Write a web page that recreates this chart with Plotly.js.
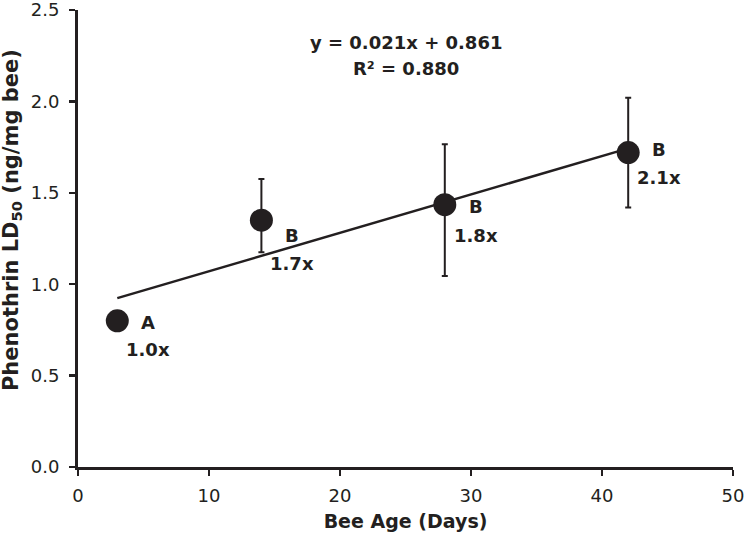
<!DOCTYPE html>
<html>
<head>
<meta charset="utf-8">
<script src="https://cdn.plot.ly/plotly-3.0.1.min.js"></script>
<style>html,body{margin:0;padding:0;background:#fff;}#chart{width:746px;height:542px;}</style>
</head>
<body>
<div id="chart"></div>
<script>
// Data
var ageDays = [3, 14, 28, 42];
var ld50 = [0.80, 1.35, 1.435, 1.72];
var errPlus = [0, 0.225, 0.33, 0.30];
var errMinus = [0, 0.175, 0.39, 0.30];
var groupLetters = ['A', 'B', 'B', 'B'];
var foldChange = ['1.0x', '1.7x', '1.8x', '2.1x'];
var fitSlope = 0.021;
var fitIntercept = 0.861;
var fitR2 = '0.880';
var fitRange = [3, 42];
var xTickVals = [0, 10, 20, 30, 40, 50];
var yTickVals = [0, 0.5, 1.0, 1.5, 2.0, 2.5];
var yTickText = ['0.0', '0.5', '1.0', '1.5', '2.0', '2.5'];

var ink = '#231f20';
var fontFam = '"DejaVu Sans", sans-serif';

// label offsets (styling, in px)
var letterShiftY = [-2, -15, -2, 3];
var foldShiftY = [-29, -43, -31, -25];

var fitX = fitRange.slice();
var fitY = fitX.map(function (x) { return fitSlope * x + fitIntercept; });

var traces = [
  {
    x: fitX, y: fitY, type: 'scatter', mode: 'lines',
    line: {color: ink, width: 2.5}, hoverinfo: 'skip', showlegend: false
  },
  {
    x: ageDays, y: ld50, type: 'scatter', mode: 'markers',
    marker: {color: ink, size: 23},
    error_y: {type: 'data', symmetric: false, array: errPlus, arrayminus: errMinus,
              color: ink, thickness: 2, width: 3},
    showlegend: false
  }
];

var annotations = [];
for (var i = 0; i < ageDays.length; i++) {
  annotations.push({
    x: ageDays[i], y: ld50[i], xref: 'x', yref: 'y', text: '<b>' + groupLetters[i] + '</b>',
    showarrow: false, xshift: 31, yshift: letterShiftY[i], xanchor: 'center', yanchor: 'middle',
    font: {family: fontFam, size: 18, color: ink}
  });
  annotations.push({
    x: ageDays[i], y: ld50[i], xref: 'x', yref: 'y', text: '<b>' + foldChange[i] + '</b>',
    showarrow: false, xshift: 31, yshift: foldShiftY[i], xanchor: 'center', yanchor: 'middle',
    font: {family: fontFam, size: 18, color: ink}
  });
}
annotations.push({
  x: 25, y: 2.324, xref: 'x', yref: 'y', showarrow: false, xanchor: 'center', yanchor: 'middle',
  text: '<b>y = ' + fitSlope.toFixed(3) + 'x + ' + fitIntercept.toFixed(3) + '</b>',
  font: {family: fontFam, size: 18, color: ink}
});
annotations.push({
  x: 25, y: 2.181, xref: 'x', yref: 'y', showarrow: false, xanchor: 'center', yanchor: 'middle',
  text: '<b>R² = ' + fitR2 + '</b>',
  font: {family: fontFam, size: 18, color: ink}
});
annotations.push({
  xref: 'paper', yref: 'paper', x: -0.101, y: 0.54, showarrow: false, textangle: -90,
  xanchor: 'center', yanchor: 'middle',
  text: '<b>Phenothrin LD<sub>50</sub> (ng/mg bee)</b>',
  font: {family: fontFam, size: 21, color: ink}
});

var layout = {
  width: 746, height: 542,
  margin: {l: 78, r: 13, t: 10, b: 75, pad: 0},
  paper_bgcolor: '#fff', plot_bgcolor: '#fff',
  showlegend: false,
  xaxis: {
    range: [0, 50], tickvals: xTickVals, ticks: 'outside', ticklen: 6, tickwidth: 2.5, tickcolor: ink,
    showline: true, linecolor: ink, linewidth: 3, showgrid: false, zeroline: false,
    ticklabelstandoff: 4, ticklabeloverflow: 'allow',
    tickfont: {family: fontFam, size: 18, color: ink},
    title: {text: '<b>Bee Age (Days)</b>', font: {family: fontFam, size: 19, color: ink}, standoff: 11}
  },
  yaxis: {
    range: [0, 2.5], tickvals: yTickVals, ticktext: yTickText, ticks: 'outside', ticklen: 6, tickwidth: 2.5,
    tickcolor: ink, showline: true, linecolor: ink, linewidth: 3, showgrid: false, zeroline: false,
    ticklabelstandoff: 6, ticklabeloverflow: 'allow',
    tickfont: {family: fontFam, size: 18, color: ink}
  },
  annotations: annotations
};

Plotly.newPlot('chart', traces, layout, {staticPlot: true, displayModeBar: false});
</script>
</body>
</html>
